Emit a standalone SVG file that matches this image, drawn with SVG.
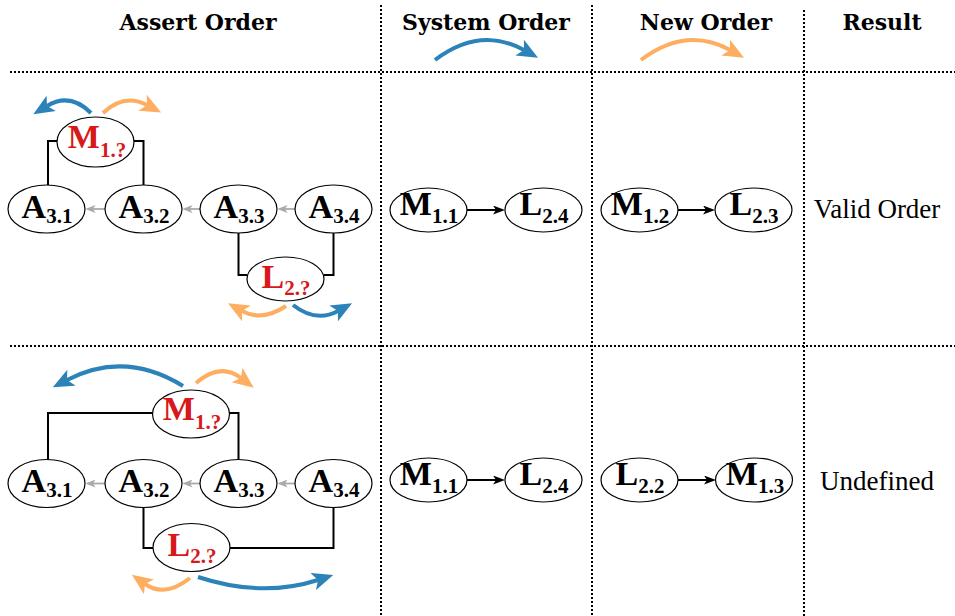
<svg xmlns="http://www.w3.org/2000/svg" width="955" height="616" viewBox="0 0 955 616">
<style>
.hdr{font-family:"DejaVu Serif","Liberation Serif",serif;font-weight:bold;font-size:22px;fill:#000;text-anchor:middle}
.res{font-family:"Liberation Serif","DejaVu Serif",serif;font-size:27px;fill:#000;text-anchor:middle}
.sep{stroke:#000;stroke-width:2;stroke-dasharray:2 2;fill:none}
.nd ellipse{fill:#fff;stroke:#000;stroke-width:1.2}
.lbl{font-family:"Liberation Serif","Times New Roman",serif;font-weight:bold;font-size:34px;fill:#000;text-anchor:middle}
.red{fill:#d7191c}
.sub{font-size:21px}
.wire{fill:none;stroke:#000;stroke-width:2}
.gray{fill:none;stroke:#aaa;stroke-width:1.8}
.blk{fill:none;stroke:#000;stroke-width:2}
.cb{fill:none;stroke:#2b83ba;stroke-width:4}
.co{fill:none;stroke:#fdae61;stroke-width:4}
</style>
<defs>
<marker id="mb" markerUnits="userSpaceOnUse" viewBox="0 0 21 18" markerWidth="21" markerHeight="18" refX="5" refY="9" orient="auto"><path d="M0,0 L21,9 L0,18 L5,9 z" fill="#2b83ba"/></marker>
<marker id="mo" markerUnits="userSpaceOnUse" viewBox="0 0 21 18" markerWidth="21" markerHeight="18" refX="5" refY="9" orient="auto"><path d="M0,0 L21,9 L0,18 L5,9 z" fill="#fdae61"/></marker>
<marker id="mk" markerUnits="userSpaceOnUse" viewBox="0 0 12 9" markerWidth="12" markerHeight="9" refX="3" refY="4.5" orient="auto"><path d="M0,0 L12,4.5 L0,9 L3,4.5 z" fill="#000"/></marker>
<marker id="mg" markerUnits="userSpaceOnUse" viewBox="0 0 10 8" markerWidth="10" markerHeight="8" refX="2.5" refY="4" orient="auto"><path d="M0,0 L10,4 L0,8 L2.5,4 z" fill="#aaa"/></marker>
</defs>

<g id="grid">
<line class="sep" x1="10" y1="72" x2="955" y2="72"/>
<line class="sep" x1="10" y1="346" x2="955" y2="346"/>
<line class="sep" x1="381" y1="5" x2="381" y2="616"/>
<line class="sep" x1="592" y1="5" x2="592" y2="616"/>
<line class="sep" x1="804" y1="10" x2="804" y2="616"/>
</g>

<g id="headers">
<text class="hdr" x="198" y="30">Assert Order</text>
<text class="hdr" x="486" y="30">System Order</text>
<text class="hdr" x="706" y="30">New Order</text>
<text class="hdr" x="882" y="30">Result</text>
<path class="cb" d="M435,60 Q480,26 524,50" marker-end="url(#mb)"/>
<path class="co" d="M641,60 Q686,26 730,50" marker-end="url(#mo)"/>
</g>

<g id="connectors">
<polyline class="wire" points="57,141 48,141 48,185"/>
<polyline class="wire" points="134,141 143.5,141 143.5,185"/>
<polyline class="wire" points="238.5,233 238.5,275 247,275"/>
<polyline class="wire" points="333.5,233 333.5,275 324,275"/>
<line class="gray" x1="105" y1="209" x2="93" y2="209" marker-end="url(#mg)"/>
<line class="gray" x1="200" y1="209" x2="190" y2="209" marker-end="url(#mg)"/>
<line class="gray" x1="295" y1="209" x2="285" y2="209" marker-end="url(#mg)"/>
<path class="cb" d="M91,113 Q70,92 47,106" marker-end="url(#mb)"/>
<path class="co" d="M103,113 Q124,93 147,105" marker-end="url(#mo)"/>
<path class="co" d="M286,306 Q262,322 242,311" marker-end="url(#mo)"/>
<path class="cb" d="M293,305 Q316,323 338,311" marker-end="url(#mb)"/>
<line class="blk" x1="467" y1="210" x2="496" y2="210" marker-end="url(#mk)"/>
<line class="blk" x1="678" y1="210" x2="706" y2="210" marker-end="url(#mk)"/>
<polyline class="wire" points="153,413 48,413 48,459.5"/>
<polyline class="wire" points="229,413 238.5,413 238.5,459.5"/>
<polyline class="wire" points="143.5,507.5 143.5,548 153,548"/>
<polyline class="wire" points="333.5,507.5 333.5,548 230,548"/>
<line class="gray" x1="105" y1="483.5" x2="93" y2="483.5" marker-end="url(#mg)"/>
<line class="gray" x1="200" y1="483.5" x2="190" y2="483.5" marker-end="url(#mg)"/>
<line class="gray" x1="295" y1="483.5" x2="285" y2="483.5" marker-end="url(#mg)"/>
<path class="cb" d="M183,386 Q125,350 67,380" marker-end="url(#mb)"/>
<path class="co" d="M196,383 Q220,362 241,378" marker-end="url(#mo)"/>
<path class="co" d="M190,578 Q165,598 145,584" marker-end="url(#mo)"/>
<path class="cb" d="M198,577 Q262,598 318,580" marker-end="url(#mb)"/>
<line class="blk" x1="467" y1="480" x2="496" y2="480" marker-end="url(#mk)"/>
<line class="blk" x1="678" y1="480" x2="707" y2="480" marker-end="url(#mk)"/>
</g>

<g id="r1-M" class="nd"><ellipse cx="95.5" cy="142" rx="38.5" ry="25"/><text class="lbl red" x="97" y="148">M<tspan class="sub" dy="9">1.?</tspan></text></g>
<g id="r1-A31" class="nd"><ellipse cx="46.5" cy="209" rx="38.5" ry="24"/><text class="lbl" x="47" y="218">A<tspan class="sub" dy="5">3.1</tspan></text></g>
<g id="r1-A32" class="nd"><ellipse cx="143.5" cy="209" rx="38.5" ry="24"/><text class="lbl" x="144" y="218">A<tspan class="sub" dy="5">3.2</tspan></text></g>
<g id="r1-A33" class="nd"><ellipse cx="238.5" cy="209" rx="38.5" ry="24"/><text class="lbl" x="239" y="218">A<tspan class="sub" dy="5">3.3</tspan></text></g>
<g id="r1-A34" class="nd"><ellipse cx="333.5" cy="209" rx="38.5" ry="24"/><text class="lbl" x="334" y="218">A<tspan class="sub" dy="5">3.4</tspan></text></g>
<g id="r1-L" class="nd"><ellipse cx="285.5" cy="279" rx="38.5" ry="22"/><text class="lbl red" x="286" y="288">L<tspan class="sub" dy="7">2.?</tspan></text></g>

<g id="r1-sys-M11" class="nd"><ellipse cx="428.5" cy="210" rx="38.5" ry="22"/><text class="lbl" x="429" y="215">M<tspan class="sub" dy="8">1.1</tspan></text></g>
<g id="r1-sys-L24" class="nd"><ellipse cx="543.5" cy="210" rx="38.5" ry="22"/><text class="lbl" x="544" y="215">L<tspan class="sub" dy="8">2.4</tspan></text></g>
<g id="r1-new-M12" class="nd"><ellipse cx="639.5" cy="210" rx="38.5" ry="22"/><text class="lbl" x="640" y="215">M<tspan class="sub" dy="8">1.2</tspan></text></g>
<g id="r1-new-L23" class="nd"><ellipse cx="753.5" cy="210" rx="38.5" ry="22"/><text class="lbl" x="754" y="215">L<tspan class="sub" dy="8">2.3</tspan></text></g>
<text class="res" x="877" y="218">Valid Order</text>

<g id="r2-M" class="nd"><ellipse cx="191" cy="414" rx="38.5" ry="24"/><text class="lbl red" x="192" y="420">M<tspan class="sub" dy="9">1.?</tspan></text></g>
<g id="r2-A31" class="nd"><ellipse cx="46.5" cy="483.5" rx="38.5" ry="24"/><text class="lbl" x="47" y="492">A<tspan class="sub" dy="5">3.1</tspan></text></g>
<g id="r2-A32" class="nd"><ellipse cx="143.5" cy="483.5" rx="38.5" ry="24"/><text class="lbl" x="144" y="492">A<tspan class="sub" dy="5">3.2</tspan></text></g>
<g id="r2-A33" class="nd"><ellipse cx="238.5" cy="483.5" rx="38.5" ry="24"/><text class="lbl" x="239" y="492">A<tspan class="sub" dy="5">3.3</tspan></text></g>
<g id="r2-A34" class="nd"><ellipse cx="333.5" cy="483.5" rx="38.5" ry="24"/><text class="lbl" x="334" y="492">A<tspan class="sub" dy="5">3.4</tspan></text></g>
<g id="r2-L" class="nd"><ellipse cx="191.5" cy="547.5" rx="38.5" ry="24"/><text class="lbl red" x="192" y="556">L<tspan class="sub" dy="7">2.?</tspan></text></g>

<g id="r2-sys-M11" class="nd"><ellipse cx="428.5" cy="480" rx="38.5" ry="22"/><text class="lbl" x="429" y="485">M<tspan class="sub" dy="8">1.1</tspan></text></g>
<g id="r2-sys-L24" class="nd"><ellipse cx="543.5" cy="480" rx="38.5" ry="22"/><text class="lbl" x="544" y="485">L<tspan class="sub" dy="8">2.4</tspan></text></g>
<g id="r2-new-L22" class="nd"><ellipse cx="639.5" cy="480" rx="38.5" ry="22"/><text class="lbl" x="640" y="485">L<tspan class="sub" dy="8">2.2</tspan></text></g>
<g id="r2-new-M13" class="nd"><ellipse cx="754" cy="480" rx="38.5" ry="22"/><text class="lbl" x="755" y="485">M<tspan class="sub" dy="8">1.3</tspan></text></g>
<text class="res" x="877" y="490">Undefined</text>
</svg>
